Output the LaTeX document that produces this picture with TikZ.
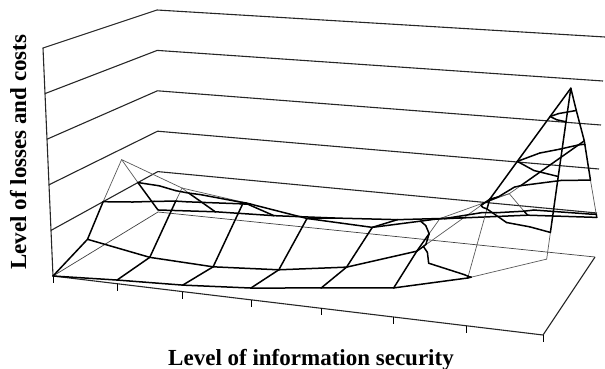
\documentclass[tikz,border=0pt]{standalone}
\usepackage{fontspec}
\setmainfont{Liberation Serif}
% surface data: 4 rows (depth) x 8 columns, flat index 8*row+col
\def\Zdat{{0,.016,.028,.05,.085,.12,.195,.306,
 .07,.02,.01,.03,.075,.177,.43,.925,
 .35,.243,.205,.16,.15,.22,.36,.62,
 .01,.03,.04,.058,.08,.118,.16,.18}}
\def\Udat{{0,0.131,0.265,0.404,0.547,0.694,0.843,1}}
% trilinear projection of the chart box (u along x, v depth, w height)
\newcommand\projxy[3]{%
 \pgfmathsetmacro\PX{(1-(#1))*(1-(#2))*(53-10*(#3))+(#1)*(1-(#2))*(543+12*(#3))+(#1)*(#2)*(595+10*(#3))+(1-(#1))*(#2)*(158-(#3))}%
 \pgfmathsetmacro\PY{(1-(#1))*(1-(#2))*(276-228*(#3))+(#1)*(1-(#2))*(335-248*(#3))+(#1)*(#2)*(257-220*(#3))+(1-(#1))*(#2)*(212-202*(#3))}%
}
% grid edge split into contour bands
\newcommand\bandedge[6]{%
 \foreach \lo/\hi/\sty in {-0.5/0.2/thk,0.2/0.4/thn,0.4/0.6/thk,0.6/0.8/thk,0.8/1.5/thk}{%
  \pgfmathsetmacro\tA{(\lo-(#3))/((#6)-(#3))}%
  \pgfmathsetmacro\tB{(\hi-(#3))/((#6)-(#3))}%
  \pgfmathsetmacro\tmin{max(0,min(\tA,\tB))}%
  \pgfmathsetmacro\tmax{min(1,max(\tA,\tB))}%
  \pgfmathtruncatemacro\okk{\tmax-\tmin>0.0005}%
  \ifnum\okk=1
   \projxy{(#1)+\tmin*((#4)-(#1))}{(#2)+\tmin*((#5)-(#2))}{(#3)+\tmin*((#6)-(#3))}%
   \let\Xa\PX\let\Ya\PY
   \projxy{(#1)+\tmax*((#4)-(#1))}{(#2)+\tmax*((#5)-(#2))}{(#3)+\tmax*((#6)-(#3))}%
   \draw[\sty] (\Xa,\Ya) -- (\PX,\PY);
  \fi
 }%
}
% crossing point of level \Lv on an edge
\newcommand\crs[6]{%
 \pgfmathsetmacro\tcr{(\Lv-(#3))/((#6)-(#3))}%
 \projxy{(#1)+\tcr*((#4)-(#1))}{(#2)+\tcr*((#5)-(#2))}{\Lv}%
}
% contour segments in one triangle
\newcommand\tri[9]{%
 \foreach \Lv in {0.2,0.4,0.6,0.8}{%
  \pgfmathtruncatemacro\fab{((#3)-\Lv)*((#6)-\Lv)<0}%
  \pgfmathtruncatemacro\fbc{((#6)-\Lv)*((#9)-\Lv)<0}%
  \pgfmathtruncatemacro\fca{((#9)-\Lv)*((#3)-\Lv)<0}%
  \pgfmathtruncatemacro\nnc{\fab+\fbc+\fca}%
  \ifnum\nnc=2
   \ifnum\fab=1
    \crs{#1}{#2}{#3}{#4}{#5}{#6}\let\Xa\PX\let\Ya\PY
    \ifnum\fbc=1 \crs{#4}{#5}{#6}{#7}{#8}{#9}\else\crs{#7}{#8}{#9}{#1}{#2}{#3}\fi
   \else
    \crs{#4}{#5}{#6}{#7}{#8}{#9}\let\Xa\PX\let\Ya\PY
    \crs{#7}{#8}{#9}{#1}{#2}{#3}%
   \fi
   \draw[cnt] (\Xa,\Ya) -- (\PX,\PY);
  \fi
 }%
}
\begin{document}
\begin{tikzpicture}[x=1pt,y=-1pt,
  wall/.style={line width=1.1pt,black!85},
  thinwall/.style={line width=0.7pt,black!75},
  thk/.style={line width=1.5pt,black,line cap=round},
  thn/.style={line width=0.7pt,black!65,line cap=round},
  cnt/.style={line width=1.5pt,black,line cap=round},
  tick/.style={line width=0.9pt,black},
  lab/.style={font=\fontsize{23}{26}\selectfont\bfseries,inner sep=0pt}]
\useasboundingbox (0,0) rectangle (605,369);
% box corners
\coordinate (FL) at (53,276);
\coordinate (FR) at (543,335);
\coordinate (BR) at (595,257);
\coordinate (BL) at (158,212);
\coordinate (TFL) at (43,48);
\coordinate (TBL) at (157,10);
\coordinate (TBR) at (605,37);
% walls with gridlines
\draw[wall] (FL) -- (TFL) -- (TBL) -- (TBR);
\foreach \k in {1,2,3,4}{%
  \pgfmathsetmacro\ww{\k/5}%
  \projxy{0}{0}{\ww}\coordinate (wa\k) at (\PX,\PY);
  \projxy{0}{1}{\ww}\coordinate (wb\k) at (\PX,\PY);
  \projxy{1}{1}{\ww}\coordinate (wc\k) at (\PX,\PY);
  \draw[wall] (wa\k) -- (wb\k) -- (wc\k);
}
% floor
\draw[thinwall] (FL) -- (BL) -- (BR);
\draw[wall] (FL) -- (FR) -- (BR);
\foreach \i in {0,...,7}{%
  \pgfmathsetmacro\uu{\Udat[\i]}%
  \projxy{\uu}{0}{0}\coordinate (tk\i) at (\PX,\PY);
  \draw[tick] (tk\i) -- ++(0,7);
}
% surface grid: rows
\foreach \j in {0,...,3}{\foreach \i in {0,...,6}{%
  \pgfmathtruncatemacro\ip{\i+1}%
  \pgfmathsetmacro\ua{\Udat[\i]}\pgfmathsetmacro\ub{\Udat[\ip]}%
  \pgfmathsetmacro\vv{\j/3}%
  \pgfmathtruncatemacro\ka{8*\j+\i}\pgfmathtruncatemacro\kb{8*\j+\ip}%
  \pgfmathsetmacro\za{\Zdat[\ka]}\pgfmathsetmacro\zb{\Zdat[\kb]}%
  \bandedge{\ua}{\vv}{\za}{\ub}{\vv}{\zb}%
}}
% surface grid: columns
\foreach \i in {0,...,7}{\foreach \j in {0,...,2}{%
  \pgfmathtruncatemacro\jp{\j+1}%
  \pgfmathsetmacro\ua{\Udat[\i]}%
  \pgfmathsetmacro\va{\j/3}\pgfmathsetmacro\vb{\jp/3}%
  \pgfmathtruncatemacro\ka{8*\j+\i}\pgfmathtruncatemacro\kb{8*\jp+\i}%
  \pgfmathsetmacro\za{\Zdat[\ka]}\pgfmathsetmacro\zb{\Zdat[\kb]}%
  \bandedge{\ua}{\va}{\za}{\ua}{\vb}{\zb}%
}}
% contour lines inside cells
\foreach \i in {0,...,6}{\foreach \j in {0,...,2}{%
  \pgfmathtruncatemacro\ip{\i+1}\pgfmathtruncatemacro\jp{\j+1}%
  \pgfmathsetmacro\ua{\Udat[\i]}\pgfmathsetmacro\ub{\Udat[\ip]}%
  \pgfmathsetmacro\va{\j/3}\pgfmathsetmacro\vb{\jp/3}%
  \pgfmathtruncatemacro\kA{8*\j+\i}\pgfmathtruncatemacro\kB{8*\j+\ip}%
  \pgfmathtruncatemacro\kC{8*\jp+\ip}\pgfmathtruncatemacro\kD{8*\jp+\i}%
  \pgfmathsetmacro\zA{\Zdat[\kA]}\pgfmathsetmacro\zB{\Zdat[\kB]}%
  \pgfmathsetmacro\zC{\Zdat[\kC]}\pgfmathsetmacro\zD{\Zdat[\kD]}%
  \pgfmathsetmacro\um{(\ua+\ub)/2}\pgfmathsetmacro\vm{(\va+\vb)/2}%
  \pgfmathsetmacro\zM{(\zA+\zB+\zC+\zD)/4}%
  \tri{\ua}{\va}{\zA}{\ub}{\va}{\zB}{\um}{\vm}{\zM}%
  \tri{\ub}{\va}{\zB}{\ub}{\vb}{\zC}{\um}{\vm}{\zM}%
  \tri{\ub}{\vb}{\zC}{\ua}{\vb}{\zD}{\um}{\vm}{\zM}%
  \tri{\ua}{\vb}{\zD}{\ua}{\va}{\zA}{\um}{\vm}{\zM}%
}}
% axis titles
\node[lab,anchor=base] (xlab) at (311,365) {Level of information security};
\node[lab,anchor=base,rotate=90] (ylab) at (26,152) {Level of losses and costs};
\end{tikzpicture}
\end{document}
